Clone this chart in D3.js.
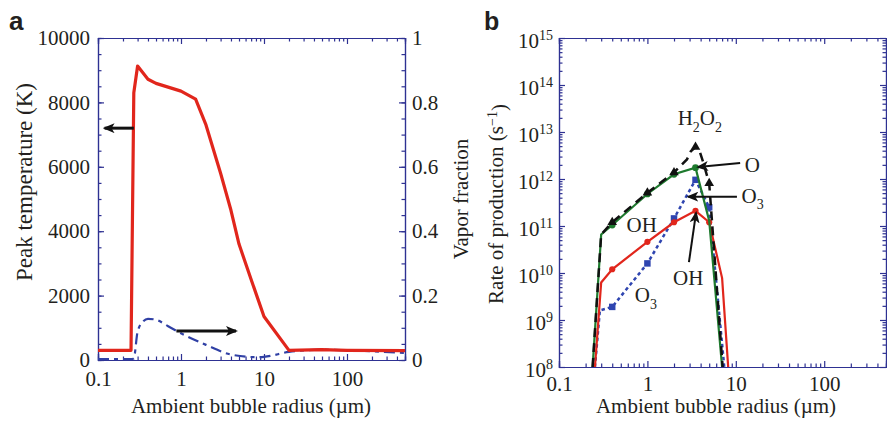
<!DOCTYPE html>
<html>
<head>
<meta charset="utf-8">
<script src="https://cdnjs.cloudflare.com/ajax/libs/d3/7.8.5/d3.min.js"></script>
<style>
  body { margin: 0; background: #fff; }
  svg text { font-family: "Liberation Serif", "Times New Roman", serif; fill: #231f20; }
  .panel-label { font-family: "Liberation Sans", Arial, sans-serif; font-weight: bold; }
</style>
</head>
<body>
<svg id="chart" width="887" height="421"></svg>
<script>
// ---- panel a data ----
var radiusTemp = [0.1, 0.25, 0.27, 0.3, 0.4, 0.5, 1, 1.5, 2, 3, 4, 5, 7, 10, 20, 50, 100, 500];
var peakTemp   = [300, 300, 8300, 9130, 8720, 8590, 8350, 8100, 7300, 5800, 4650, 3600, 2500, 1350, 300, 320, 300, 290];

var radiusVapor = [0.1, 0.25, 0.27, 0.3, 0.35, 0.4, 0.5, 0.7, 1, 2, 4, 8, 10, 20, 50, 100, 500];
var vaporFrac   = [0.003, 0.003, 0.005, 0.088, 0.12, 0.128, 0.125, 0.105, 0.083, 0.047, 0.017, 0.009, 0.01, 0.025, 0.032, 0.03, 0.022];

var tempTicks  = [0, 2000, 4000, 6000, 8000, 10000];
var vaporTicks = [0, 0.2, 0.4, 0.6, 0.8, 1];
var radiusTicks = [0.1, 1, 10, 100];

// ---- panel b data ----
var radiusO   = [0.24, 0.3, 0.4, 1, 2, 3.5, 5, 7];
var rateO     = [1e8, 6.6e10, 1.05e11, 4.8e11, 1.26e12, 1.74e12, 1.3e11, 1e8];
var markO     = [0.4, 1, 2, 3.5];

var radiusH2O2 = [0.24, 0.3, 0.4, 1, 2, 2.8, 3.1, 3.5, 3.9, 4.3, 5, 7.1];
var rateH2O2   = [1e8, 6.6e10, 1.2e11, 5.1e11, 1.38e12, 2.6e12, 3.9e12, 4.8e12, 3.9e12, 2.2e12, 8.1e11, 1e8];
var markH2O2   = [0.4, 1, 2, 3.5, 5];

var radiusOH = [0.255, 0.3, 0.4, 1, 2, 3.5, 5, 7, 8.2];
var rateOH   = [1e8, 6.3e9, 1.2e10, 4.6e10, 1.2e11, 2.1e11, 1.2e11, 7.8e9, 1e8];
var markOH   = [0.4, 1, 2, 3.5, 5];

var radiusO3 = [0.255, 0.29, 0.4, 1, 2, 3.5, 5, 7.4];
var rateO3   = [1e8, 1.6e9, 1.9e9, 1.6e10, 1.45e11, 9.6e11, 2.5e11, 1e8];
var markO3   = [0.4, 1, 2, 3.5, 5];

var rateTicks = [1e8, 1e9, 1e10, 1e11, 1e12, 1e13, 1e14, 1e15];

var axisColor = "#2e3192";
var svg = d3.select("#chart");

function zip(xs, ys){
  return xs.map(function(x, i){ return {x: x, y: ys[i]}; });
}

function styleAxis(g){
  g.selectAll("path, line").style("stroke", axisColor).style("stroke-width", 1.2);
  g.selectAll("text").style("font-size", "21px").style("fill", "#231f20")
    .style("font-family", "'Liberation Serif', 'Times New Roman', serif");
}

// arrowhead
svg.append("defs").append("marker")
  .attr("id", "head")
  .attr("viewBox", "0 0 12 10")
  .attr("refX", 10).attr("refY", 5)
  .attr("markerWidth", 12).attr("markerHeight", 10)
  .attr("markerUnits", "userSpaceOnUse")
  .attr("orient", "auto")
  .append("path")
    .attr("d", "M0,0 L12,5 L0,10 L3,5 Z")
    .style("fill", "#111");

function arrow(g, x1, y1, x2, y2, w){
  g.append("line")
    .attr("x1", x1).attr("y1", y1).attr("x2", x2).attr("y2", y2)
    .style("stroke", "#111").style("stroke-width", w)
    .attr("marker-end", "url(#head)");
}

//========== Panel a ==========
function drawPanelA(){
  var xa = d3.scaleLog().domain([0.1, 500]).range([98, 405]);
  var ya = d3.scaleLinear().domain([0, 10000]).range([360, 38]);
  var yv = d3.scaleLinear().domain([0, 1]).range([360, 38]);
  var g = svg.append("g");

  var minorX = xa.ticks().filter(function(d){ return radiusTicks.indexOf(d) < 0; });

  //Bottom/top axes
  g.append("g").attr("transform", "translate(0,360)")
    .call(d3.axisBottom(xa).tickValues(radiusTicks).tickSize(-6).tickPadding(11).tickFormat(function(d){ return d; }))
    .call(styleAxis);
  g.append("g").attr("transform", "translate(0,360)")
    .call(d3.axisBottom(xa).tickValues(minorX).tickSize(-3.5).tickFormat(""))
    .call(styleAxis);
  g.append("g").attr("transform", "translate(0,38)")
    .call(d3.axisTop(xa).tickValues(radiusTicks).tickSize(-6).tickFormat(""))
    .call(styleAxis);
  g.append("g").attr("transform", "translate(0,38)")
    .call(d3.axisTop(xa).tickValues(minorX).tickSize(-3.5).tickFormat(""))
    .call(styleAxis);

  //Left axis
  g.append("g").attr("transform", "translate(98,0)")
    .call(d3.axisLeft(ya).tickValues(tempTicks).tickSize(-6).tickPadding(8).tickFormat(d3.format("d")))
    .call(styleAxis);
  g.append("g").attr("transform", "translate(98,0)")
    .call(d3.axisLeft(ya).tickValues(d3.range(0, 10001, 500)).tickSize(-3.5).tickFormat(""))
    .call(styleAxis);

  //Right axis
  g.append("g").attr("transform", "translate(405,0)")
    .call(d3.axisRight(yv).tickValues(vaporTicks).tickSize(-6).tickPadding(7).tickFormat(function(d){ return +d.toFixed(2); }))
    .call(styleAxis);
  g.append("g").attr("transform", "translate(405,0)")
    .call(d3.axisRight(yv).tickValues(d3.range(0, 1.001, 0.05)).tickSize(-3.5).tickFormat(""))
    .call(styleAxis);

  //Lines
  var tempLine = d3.line().x(function(d){ return xa(d.x); }).y(function(d){ return ya(d.y); });
  var vaporLine = d3.line().x(function(d){ return xa(d.x); }).y(function(d){ return yv(d.y); }).curve(d3.curveMonotoneX);

  g.append("path")
    .datum(zip(radiusVapor, vaporFrac))
    .attr("d", vaporLine)
    .style("fill", "none").style("stroke", "#3040a5").style("stroke-width", 2.2)
    .style("stroke-dasharray", "11,5,4,5");

  g.append("path")
    .datum(zip(radiusTemp, peakTemp))
    .attr("d", tempLine)
    .style("fill", "none").style("stroke", "#e1261c").style("stroke-width", 3.2)
    .style("stroke-linejoin", "round");

  //Arrows pointing at the axes
  arrow(g, xa(0.27), ya(7200), xa(0.12), ya(7200), 3);
  arrow(g, xa(0.88), yv(0.09), xa(4.6), yv(0.09), 3);

  //Axis labels
  g.append("text")
    .attr("x", 251).attr("y", 413)
    .style("text-anchor", "middle").style("font-size", "21px")
    .text("Ambient bubble radius (\u00b5m)");
  g.append("text")
    .attr("transform", "translate(32,182) rotate(-90)")
    .style("text-anchor", "middle").style("font-size", "23px")
    .text("Peak temperature (K)");
  g.append("text")
    .attr("transform", "translate(468,199) rotate(-90)")
    .style("text-anchor", "middle").style("font-size", "21px")
    .text("Vapor fraction");

  g.append("text").attr("class", "panel-label")
    .attr("x", 9).attr("y", 30).style("font-size", "26px").text("a");
}

//========== Panel b ==========
function drawPanelB(){
  var xb = d3.scaleLog().domain([0.1, 500]).range([559, 886]);
  var yb = d3.scaleLog().domain([1e8, 1e15]).range([367, 38]);
  var g = svg.append("g");

  var minorX = xb.ticks().filter(function(d){ return radiusTicks.indexOf(d) < 0; });
  var minorY = yb.ticks().filter(function(d){ return rateTicks.indexOf(d) < 0; });

  g.append("g").attr("transform", "translate(0,367)")
    .call(d3.axisBottom(xb).tickValues(radiusTicks).tickSize(-6).tickPadding(9).tickFormat(function(d){ return d; }))
    .call(styleAxis);
  g.append("g").attr("transform", "translate(0,367)")
    .call(d3.axisBottom(xb).tickValues(minorX).tickSize(-3.5).tickFormat(""))
    .call(styleAxis);
  g.append("g").attr("transform", "translate(0,38)")
    .call(d3.axisTop(xb).tickValues(radiusTicks).tickSize(-6).tickFormat(""))
    .call(styleAxis);
  g.append("g").attr("transform", "translate(0,38)")
    .call(d3.axisTop(xb).tickValues(minorX).tickSize(-3.5).tickFormat(""))
    .call(styleAxis);

  var left = g.append("g").attr("transform", "translate(559,0)")
    .call(d3.axisLeft(yb).tickValues(rateTicks).tickSize(-6).tickPadding(6).tickFormat(""))
    .call(styleAxis);
  g.append("g").attr("transform", "translate(559,0)")
    .call(d3.axisLeft(yb).tickValues(minorY).tickSize(-3.5).tickFormat(""))
    .call(styleAxis);
  g.append("g").attr("transform", "translate(886,0)")
    .call(d3.axisRight(yb).tickValues(rateTicks).tickSize(-6).tickFormat(""))
    .call(styleAxis);
  g.append("g").attr("transform", "translate(886,0)")
    .call(d3.axisRight(yb).tickValues(minorY).tickSize(-3.5).tickFormat(""))
    .call(styleAxis);

  //Power-of-ten labels
  left.selectAll(".tick text").each(function(d){
    var t = d3.select(this).attr("dy", "0.45em");
    t.append("tspan").text("10");
    t.append("tspan").attr("dy", "-0.55em").style("font-size", "14px").text(Math.round(Math.log10(d)));
  });

  //Clip
  svg.select("defs").append("clipPath").attr("id", "clipB")
    .append("rect").attr("x", 559).attr("y", 38).attr("width", 327).attr("height", 329);
  var plot = g.append("g").attr("clip-path", "url(#clipB)");

  var line = d3.line().x(function(d){ return xb(d.x); }).y(function(d){ return yb(d.y); });

  function series(xs, ys, marks, color, width, dash, symbol, size){
    var data = zip(xs, ys);
    plot.append("path").datum(data).attr("d", line)
      .style("fill", "none").style("stroke", color).style("stroke-width", width)
      .style("stroke-dasharray", dash);
    plot.selectAll(null)
      .data(data.filter(function(d){ return marks.indexOf(d.x) >= 0; }))
      .enter().append("path")
        .attr("transform", function(d){ return "translate(" + xb(d.x) + "," + yb(d.y) + ")"; })
        .attr("d", d3.symbol().type(symbol).size(size))
        .style("fill", color);
  }

  series(radiusO3, rateO3, markO3, "#2f45b0", 2.5, "3.5,3", d3.symbolSquare, 42);
  series(radiusOH, rateOH, markOH, "#e1261c", 2.2, null, d3.symbolCircle, 30);
  series(radiusO, rateO, markO, "#1e7a2e", 2.2, null, d3.symbolCircle, 36);
  series(radiusH2O2, rateH2O2, markH2O2, "#111", 2.5, "9,6", d3.symbolTriangle, 40);

  //Annotations
  arrow(g, xb(11.2), yb(2.2e12), xb(3.75), yb(1.8e12), 2);
  arrow(g, xb(10.3), yb(4.2e11), xb(2.9), yb(4.2e11), 2);
  arrow(g, xb(2.95), yb(1.7e10), xb(3.55), yb(1.9e11), 2);

  function label(x, y, parts){
    var t = g.append("text").attr("x", xb(x)).attr("y", yb(y)).attr("dy", "0.35em")
      .style("font-size", "21px");
    var shift = 0;
    parts.forEach(function(p){
      var s = t.append("tspan").text(p[0]);
      var target = p[1] ? 0.3 : 0;
      if(target !== shift){ s.attr("dy", (target - shift) * 21 + "px"); shift = target; }
      if(p[1]) s.style("font-size", "14px");
    });
    return t;
  }

  label(2.2, 2.0e13, [["H"], ["2", 1], ["O"], ["2", 1]]);
  label(12.6, 2.0e12, [["O"]]);
  label(11.6, 4.4e11, [["O"], ["3", 1]]);
  label(0.58, 1.05e11, [["OH"]]);
  label(1.95, 8.0e9, [["OH"]]);
  label(0.72, 3.4e9, [["O"], ["3", 1]]);

  //Axis labels
  g.append("text")
    .attr("x", 716).attr("y", 413)
    .style("text-anchor", "middle").style("font-size", "21px")
    .text("Ambient bubble radius (\u00b5m)");
  var yl = g.append("text")
    .attr("transform", "translate(503,204) rotate(-90)")
    .style("text-anchor", "middle").style("font-size", "21px");
  yl.append("tspan").text("Rate of production (s");
  yl.append("tspan").attr("dy", "-0.45em").style("font-size", "14px").text("\u22121");
  yl.append("tspan").attr("dy", "0.45em").text(")");

  g.append("text").attr("class", "panel-label")
    .attr("x", 484).attr("y", 30).style("font-size", "25px").text("b");
}

drawPanelA();
drawPanelB();
</script>
</body>
</html>
